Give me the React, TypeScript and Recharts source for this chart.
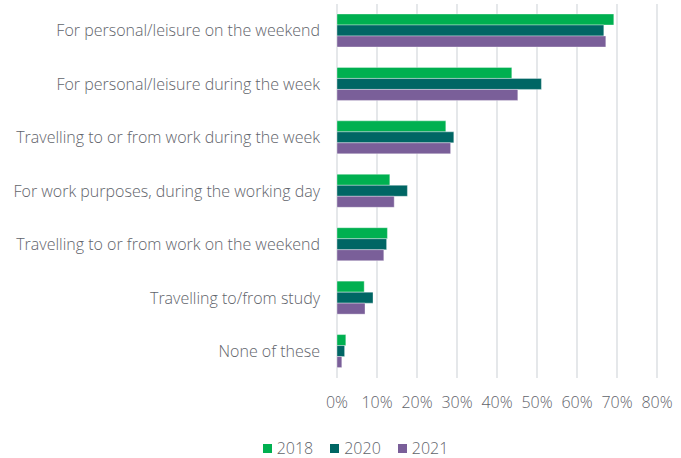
import { BarChart, Bar, XAxis, YAxis, CartesianGrid, Legend } from "recharts";

const categories = [
  "For personal/leisure on the weekend",
  "For personal/leisure during the week",
  "Travelling to or from work during the week",
  "For work purposes, during the working day",
  "Travelling to or from work on the weekend",
  "Travelling to/from study",
  "None of these",
];
const y2018 = [69.2, 43.7, 27.2, 13.2, 12.6, 6.8, 2.2];
const y2020 = [66.7, 51.1, 29.2, 17.6, 12.4, 9.0, 1.9];
const y2021 = [67.2, 45.2, 28.4, 14.3, 11.7, 7.0, 1.2];
const xTicks = [0, 10, 20, 30, 40, 50, 60, 70, 80];

const series = [
  { key: "y2018", name: "2018", color: "#00b050" },
  { key: "y2020", name: "2020", color: "#006664" },
  { key: "y2021", name: "2021", color: "#7a5f99" },
];

const data = categories.map((c, i) => ({
  cat: c,
  y2018: y2018[i],
  y2020: y2020[i],
  y2021: y2021[i],
}));

const font = "'Open Sans', sans-serif";
const textColor = "#5f646b";

function LegendRow() {
  return (
    <div style={{ display: "flex", justifyContent: "center", fontFamily: font, fontWeight: 300, fontSize: 16, lineHeight: "20px", color: textColor, paddingLeft: 71 }}>
      {series.map((s) => (
        <span key={s.key} style={{ display: "flex", alignItems: "center", marginRight: 17 }}>
          <span style={{ width: 9, height: 9, background: s.color, marginRight: 5, display: "inline-block" }} />
          {s.name}
        </span>
      ))}
    </div>
  );
}

export default function App() {
  return (
    <div style={{ position: "absolute", left: 0, top: 0 }}>
      <BarChart
        width={681}
        height={458}
        data={data}
        layout="vertical"
        margin={{ top: 4, right: 24, bottom: 0, left: 0 }}
        barGap={0}
        barSize={11}
      >
        <CartesianGrid horizontal={false} stroke="#d7dbdf" strokeWidth={1.3} />
        <XAxis
          type="number"
          domain={[0, 80]}
          ticks={xTicks}
          tickFormatter={(v) => `${v}%`}
          axisLine={false}
          tickLine={false}
          tickMargin={13}
          height={60}
          tick={{ fill: textColor, fontSize: 16, fontFamily: font, fontWeight: 300 }}
        />
        <YAxis
          type="category"
          dataKey="cat"
          width={337}
          axisLine={false}
          tickLine={false}
          tickMargin={11}
          interval={0}
          tick={{ fill: textColor, fontSize: 16, fontFamily: font, fontWeight: 300 }}
        />
        <Legend verticalAlign="bottom" height={20} content={() => <LegendRow />} />
        {series.map((s) => (
          <Bar
            key={s.key}
            dataKey={s.key}
            name={s.name}
            fill={s.color}
            stroke="rgba(255,255,255,0.35)"
            strokeWidth={1}
            isAnimationActive={false}
          />
        ))}
      </BarChart>
    </div>
  );
}
